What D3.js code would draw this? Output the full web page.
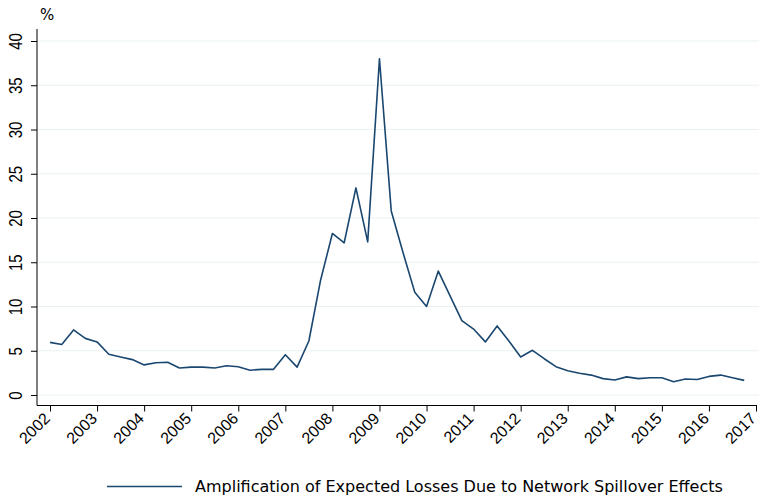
<!DOCTYPE html>
<html>
<head>
<meta charset="utf-8">
<script src="https://cdn.jsdelivr.net/npm/d3@7"></script>
<style>
  html, body { margin: 0; padding: 0; background: #fff; }
  svg { display: block; font-family: "DejaVu Sans", sans-serif; }
</style>
</head>
<body>
<svg id="chart" width="759" height="496"></svg>
<script>
// Quarterly observations, 2002Q1 .. 2016Q4
const startYear = 2002;
const values = [
  5.95, 5.7, 7.35, 6.4,
  6.0, 4.6, 4.3, 4.0,
  3.4, 3.65, 3.7, 3.05,
  3.15, 3.15, 3.05, 3.3,
  3.2, 2.8, 2.9, 2.9,
  4.55, 3.15, 6.1, 13.0,
  18.25, 17.2, 23.4, 17.3,
  38.0, 20.8, 16.1, 11.6,
  10.0, 14.0, 11.2, 8.4,
  7.45, 6.0, 7.8, 6.1,
  4.3, 5.05, 4.1, 3.2,
  2.75, 2.45, 2.25, 1.85,
  1.7, 2.05, 1.85, 1.95,
  1.95, 1.5, 1.8, 1.75,
  2.1, 2.25, 1.95, 1.65
];
const xTicks = [2002, 2003, 2004, 2005, 2006, 2007, 2008, 2009, 2010, 2011, 2012, 2013, 2014, 2015, 2016, 2017];
const yTicks = [0, 5, 10, 15, 20, 25, 30, 35, 40];
const seriesName = "Amplification of Expected Losses Due to Network Spillover Effects";
const yUnit = "%";

const data = values.map((v, i) => ({ t: startYear + i / 4, v }));

const svg = d3.select("#chart");
const axisX = 37, axisY = 405.5;

const x = d3.scaleLinear().domain([2002, 2017]).range([50, 756]);
const y = d3.scaleLinear().domain([0, 40]).range([395, 41]);

const lineColor = "#1a476f";
const gridColor = "#eaf2f3";

// gridlines
svg.append("g")
  .selectAll("line")
  .data(yTicks)
  .join("line")
  .attr("x1", axisX).attr("x2", 759)
  .attr("y1", d => y(d)).attr("y2", d => y(d))
  .attr("stroke", gridColor).attr("stroke-width", 1.2);

// y axis
const yAxis = svg.append("g")
  .attr("transform", `translate(${axisX},0)`)
  .call(d3.axisLeft(y).tickValues(yTicks).tickSize(6).tickSizeOuter(0).tickPadding(4));
yAxis.select(".domain").remove();
yAxis.append("line")
  .attr("x1", 0).attr("x2", 0)
  .attr("y1", 29).attr("y2", axisY)
  .attr("stroke", "#000").attr("stroke-width", 1);
yAxis.selectAll(".tick line").attr("stroke", "#000");
yAxis.selectAll(".tick text")
  .attr("fill", "#000")
  .style("font-size", "15px")
  .attr("x", null).attr("dy", null)
  .attr("text-anchor", "middle")
  .attr("transform", "translate(-21,0) rotate(-90) translate(0,5.5) scale(1,1.25)");

// x axis
const xAxis = svg.append("g")
  .attr("transform", `translate(0,${axisY})`)
  .call(d3.axisBottom(x).tickValues(xTicks).tickFormat(d3.format("d")).tickSize(6).tickSizeOuter(0));
xAxis.select(".domain").remove();
xAxis.append("line")
  .attr("x1", axisX).attr("x2", 757)
  .attr("y1", 0).attr("y2", 0)
  .attr("stroke", "#000").attr("stroke-width", 1);
xAxis.selectAll(".tick line").attr("stroke", "#000");
xAxis.selectAll(".tick text")
  .attr("fill", "#000")
  .style("font-size", "16px")
  .attr("y", null).attr("dy", null)
  .attr("text-anchor", "end")
  .attr("transform", "translate(0.5,14) rotate(-45)");

// unit label
svg.append("text")
  .attr("x", 40).attr("y", 20)
  .style("font-size", "15px")
  .attr("fill", "#000")
  .text(yUnit);

// series line
svg.append("path")
  .datum(data)
  .attr("fill", "none")
  .attr("stroke", lineColor)
  .attr("stroke-width", 1.6)
  .attr("stroke-linejoin", "round")
  .attr("d", d3.line().x(d => x(d.t)).y(d => y(d.v)));

// legend
const lg = svg.append("g");
lg.append("line")
  .attr("x1", 107).attr("x2", 182)
  .attr("y1", 486.5).attr("y2", 486.5)
  .attr("stroke", lineColor).attr("stroke-width", 1.6);
lg.append("text")
  .attr("x", 195).attr("y", 492)
  .style("font-size", "16px")
  .attr("fill", "#000")
  .text(seriesName);
</script>
</body>
</html>
